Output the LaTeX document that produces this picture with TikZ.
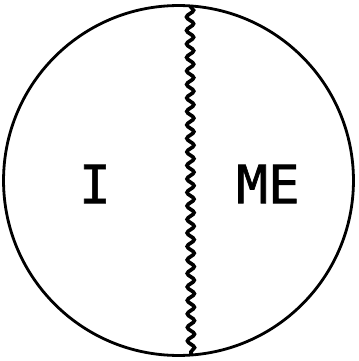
\documentclass[tikz,border=0pt]{standalone}
\usepackage{fontspec}
\newfontfamily\handfont[FakeBold=1.2]{DejaVu Sans Mono}
\usetikzlibrary{decorations.pathmorphing}
\begin{document}
\begin{tikzpicture}[
    x=0.02cm, y=-0.02cm,
    ring/.style={draw, circle, line width=1.6pt, minimum size=7cm, inner sep=0pt},
    split/.style={line width=2.1pt, decorate,
                  decoration={snake, amplitude=0.07cm, segment length=0.27cm}},
    word/.style={font=\handfont\fontsize{30}{31}\selectfont, inner sep=0pt}]
  \useasboundingbox (0,0) rectangle (358,361);
  % the whole self, split down the middle
  \node[ring] (self) at (178.5,180.5) {};
  \coordinate (top) at (190,6);
  \coordinate (bottom) at (191,355);
  \draw[split] (top) -- (bottom);
  % the two halves
  \node[word] (i)  at (95,184)  {I};
  \node[word] (me) at (268,184) {ME};
\end{tikzpicture}
\end{document}
